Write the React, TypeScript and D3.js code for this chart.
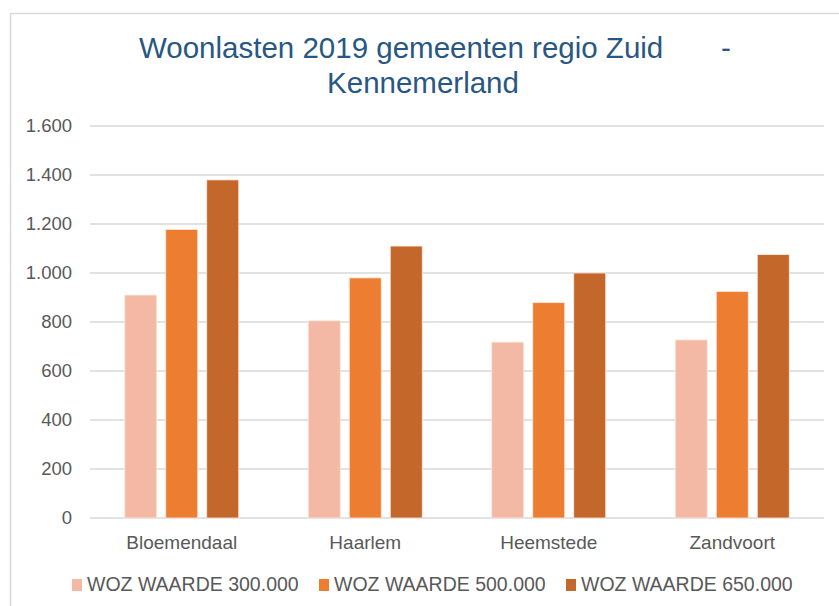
import { useEffect, useRef } from "react";
import * as d3 from "d3";

const gemeenten = ["Bloemendaal", "Haarlem", "Heemstede", "Zandvoort"];
const series = ["WOZ WAARDE 300.000", "WOZ WAARDE 500.000", "WOZ WAARDE 650.000"];
const woz300 = [910, 805, 718, 727];
const woz500 = [1178, 980, 879, 925];
const woz650 = [1380, 1110, 1000, 1075];
const yTicks = [0, 200, 400, 600, 800, 1000, 1200, 1400, 1600];

const colors = ["#F4B9A5", "#ED7D31", "#C4672A"];
const font = "'Liberation Sans', Arial, sans-serif";

export default function App() {
  const ref = useRef<SVGSVGElement | null>(null);

  useEffect(() => {
    const width = 839;
    const height = 606;
    const margin = { top: 126, right: 15, bottom: 88, left: 90 };

    const svg = d3.select(ref.current);
    svg.selectAll("*").remove();

    // chart area border (cut off on the right / bottom)
    svg
      .append("rect")
      .attr("x", 10.5)
      .attr("y", 13.5)
      .attr("width", 900)
      .attr("height", 700)
      .attr("fill", "#fff")
      .attr("stroke", "#D9D9D9")
      .attr("stroke-width", 1.5);

    const x0 = d3
      .scaleBand<string>()
      .domain(gemeenten)
      .range([margin.left, width - margin.right])
      .padding(0);

    const inner = 114;
    const x1 = d3
      .scaleBand<string>()
      .domain(series)
      .range([0, inner])
      .paddingInner(9 / 41)
      .paddingOuter(0);

    const y = d3
      .scaleLinear()
      .domain([0, 1600])
      .range([height - margin.bottom, margin.top]);

    const fmt = (v: number) => d3.format(",")(v).replace(/,/g, ".");

    // gridlines
    svg
      .append("g")
      .selectAll("line")
      .data(yTicks)
      .join("line")
      .attr("x1", margin.left)
      .attr("x2", width - margin.right)
      .attr("y1", (d) => y(d))
      .attr("y2", (d) => y(d))
      .attr("stroke", "#D9D9D9")
      .attr("stroke-width", 1.5);

    // y tick labels
    svg
      .append("g")
      .selectAll("text")
      .data(yTicks)
      .join("text")
      .attr("x", 72)
      .attr("y", (d) => y(d))
      .attr("dy", "0.35em")
      .attr("text-anchor", "end")
      .attr("font-family", font)
      .attr("font-size", 18.5)
      .attr("fill", "#595959")
      .text((d) => fmt(d));

    const values = [woz300, woz500, woz650];

    // bars
    series.forEach((s, si) => {
      svg
        .append("g")
        .selectAll("rect")
        .data(gemeenten)
        .join("rect")
        .attr(
          "x",
          (g) => x0(g)! + (x0.bandwidth() - inner) / 2 + x1(s)!
        )
        .attr("width", x1.bandwidth())
        .attr("y", (_g, i) => y(values[si][i]))
        .attr("height", (_g, i) => y(0) - y(values[si][i]))
        .attr("fill", colors[si])
        .attr("stroke", "#FDE9E0")
        .attr("stroke-width", 0.8);
    });

    // category labels
    svg
      .append("g")
      .selectAll("text")
      .data(gemeenten)
      .join("text")
      .attr("x", (g) => x0(g)! + x0.bandwidth() / 2)
      .attr("y", 548.5)
      .attr("text-anchor", "middle")
      .attr("font-family", font)
      .attr("font-size", 19)
      .attr("fill", "#595959")
      .text((g) => g);

    // title
    const title = svg
      .append("g")
      .attr("font-family", font)
      .attr("font-size", 29.5)
      .attr("fill", "#285783");
    title
      .append("text")
      .attr("x", 139)
      .attr("y", 58)
      .text("Woonlasten 2019 gemeenten regio Zuid");
    title
      .append("text")
      .attr("x", 721)
      .attr("y", 58)
      .text("-");
    title
      .append("text")
      .attr("x", 423)
      .attr("y", 93)
      .attr("text-anchor", "middle")
      .text("Kennemerland");

    // legend
    const legendX = [72, 319, 566];
    const legend = svg
      .append("g")
      .selectAll("g")
      .data(series)
      .join("g")
      .attr("transform", (_d, i) => `translate(${legendX[i]},0)`);
    legend
      .append("rect")
      .attr("x", 0)
      .attr("y", 579)
      .attr("width", 10)
      .attr("height", 12)
      .attr("fill", (_d, i) => colors[i]);
    legend
      .append("text")
      .attr("x", 15)
      .attr("y", 591)
      .attr("font-family", font)
      .attr("font-size", 19.5)
      .attr("fill", "#595959")
      .text((d) => d);
  }, []);

  return (
    <svg
      ref={ref}
      width={839}
      height={606}
      style={{ position: "absolute", left: 0, top: 0, background: "#fff" }}
    />
  );
}
